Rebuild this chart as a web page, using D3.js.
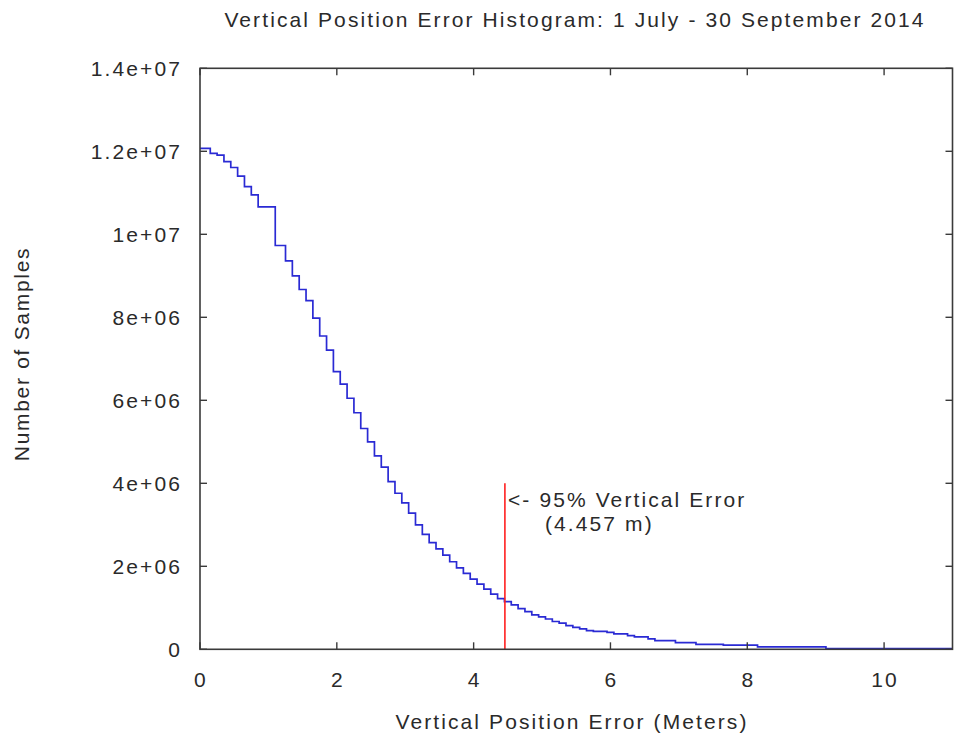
<!DOCTYPE html>
<html>
<head>
<meta charset="utf-8">
<script src="https://cdn.jsdelivr.net/npm/d3@7"></script>
<style>
  html, body { margin: 0; padding: 0; background: #fff; }
  svg { display: block; }
  text { font-family: "Liberation Sans", Arial, sans-serif; fill: #2a2a2a; }
</style>
</head>
<body>
<svg id="chart" width="954" height="740"></svg>
<script>
// ---- data ----
// left edges of histogram bins (meters); last value is the right end of the final bin
const binEdges = [0, 0.15, 0.25, 0.35, 0.45, 0.55, 0.65, 0.75, 0.85, 1.1, 1.25, 1.35, 1.45, 1.55, 1.65, 1.75, 1.85, 1.95,
  2.05, 2.15, 2.25, 2.35, 2.45, 2.55, 2.65, 2.75, 2.85, 2.95, 3.05, 3.15, 3.25, 3.35, 3.45, 3.55, 3.65, 3.75, 3.85, 3.95,
  4.05, 4.15, 4.25, 4.35, 4.45, 4.55, 4.65, 4.75, 4.85, 4.95, 5.05, 5.15, 5.25, 5.35, 5.45, 5.55, 5.65, 5.75, 5.95, 6.05,
  6.25, 6.35, 6.55, 6.65, 6.95, 7.25, 7.65, 8.15, 9.15, 11];
// sample counts per bin
const sampleCounts = [12070000, 11950000, 11910000, 11750000, 11610000, 11400000, 11150000, 10950000, 10660000,
  9730000, 9360000, 9000000, 8670000, 8400000, 7980000, 7550000, 7210000, 6690000, 6390000, 6050000, 5700000,
  5320000, 5000000, 4660000, 4390000, 4040000, 3760000, 3530000, 3280000, 3000000, 2770000, 2570000, 2420000,
  2270000, 2110000, 1960000, 1830000, 1690000, 1570000, 1450000, 1330000, 1220000, 1150000, 1070000, 980000,
  910000, 830000, 780000, 730000, 670000, 630000, 570000, 530000, 490000, 450000, 430000, 410000, 370000,
  330000, 300000, 250000, 210000, 160000, 120000, 100000, 60000, 15000];
const xTicks = [0, 2, 4, 6, 8, 10];
const yTicks = [0, 2e6, 4e6, 6e6, 8e6, 1e7, 1.2e7, 1.4e7];
const yTickLabels = ["0", "2e+06", "4e+06", "6e+06", "8e+06", "1e+07", "1.2e+07", "1.4e+07"];
const percentile95 = 4.457;
const markerTop = 4e6;
const titleText = "Vertical Position Error Histogram: 1 July - 30 September 2014";
const xTitle = "Vertical Position Error (Meters)";
const yTitle = "Number of Samples";
const annotation1 = "<- 95% Vertical Error";
const annotation2 = "(4.457 m)";

// ---- layout ----
const pLeft = 200, pRight = 952.5, pTop = 68.3, pBottom = 649.3;
const svg = d3.select("#chart");
const x = d3.scaleLinear().domain([0, 11]).range([pLeft, pRight]);
const y = d3.scaleLinear().domain([0, 1.4e7]).range([pBottom, pTop]);
const LS = "2.1px";
const FS = "21px";
const axisColor = "#3a3a3a";

// clip
svg.append("defs").append("clipPath").attr("id", "plotclip")
  .append("rect").attr("x", pLeft).attr("y", pTop).attr("width", pRight - pLeft).attr("height", pBottom - pTop);

// histogram step line
const pts = sampleCounts.map((c, i) => [binEdges[i], c]);
pts.push([binEdges[binEdges.length - 1], sampleCounts[sampleCounts.length - 1]]);
const line = d3.line().x(d => x(d[0])).y(d => y(d[1])).curve(d3.curveStepAfter);
svg.append("path").attr("d", line(pts))
  .attr("clip-path", "url(#plotclip)")
  .attr("fill", "none").attr("stroke", "#2a2ad4").attr("stroke-width", 1.7);

// 95% marker
svg.append("line")
  .attr("x1", x(percentile95)).attr("x2", x(percentile95))
  .attr("y1", y(0)).attr("y2", y(markerTop))
  .attr("stroke", "#ff2020").attr("stroke-width", 1.6);

// border
svg.append("rect").attr("x", pLeft).attr("y", pTop).attr("width", pRight - pLeft).attr("height", pBottom - pTop)
  .attr("fill", "none").attr("stroke", axisColor).attr("stroke-width", 1.6);

// ticks (inward, mirrored)
const tl = 7;
const tg = svg.append("g").attr("stroke", axisColor).attr("stroke-width", 1.4);
xTicks.forEach(t => {
  tg.append("line").attr("x1", x(t)).attr("x2", x(t)).attr("y1", pBottom).attr("y2", pBottom - tl);
  tg.append("line").attr("x1", x(t)).attr("x2", x(t)).attr("y1", pTop).attr("y2", pTop + tl);
});
yTicks.forEach(t => {
  tg.append("line").attr("x1", pLeft).attr("x2", pLeft + tl).attr("y1", y(t)).attr("y2", y(t));
  tg.append("line").attr("x1", pRight).attr("x2", pRight - tl).attr("y1", y(t)).attr("y2", y(t));
});

// tick labels
svg.append("g").selectAll("text").data(xTicks).join("text")
  .attr("x", d => x(d) + 1).attr("y", 687).attr("text-anchor", "middle")
  .style("font-size", FS).style("letter-spacing", LS).text(d => d);
svg.append("g").selectAll("text").data(yTicks).join("text")
  .attr("x", 182).attr("y", d => y(d) + 7.5).attr("text-anchor", "end")
  .style("font-size", FS).style("letter-spacing", LS).text((d, i) => yTickLabels[i]);

// title and axis titles
svg.append("text").attr("x", 575).attr("y", 27).attr("text-anchor", "middle")
  .style("font-size", FS).style("letter-spacing", LS).text(titleText);
svg.append("text").attr("x", 572).attr("y", 729).attr("text-anchor", "middle")
  .style("font-size", FS).style("letter-spacing", LS).text(xTitle);
svg.append("text").attr("transform", "translate(29,354) rotate(-90)").attr("text-anchor", "middle")
  .style("font-size", FS).style("letter-spacing", "1.7px").text(yTitle);

// annotation
svg.append("text").attr("x", 508).attr("y", 506.5)
  .style("font-size", FS).style("letter-spacing", LS).text(annotation1);
svg.append("text").attr("x", 545).attr("y", 530.5)
  .style("font-size", FS).style("letter-spacing", LS).text(annotation2);
</script>
</body>
</html>
